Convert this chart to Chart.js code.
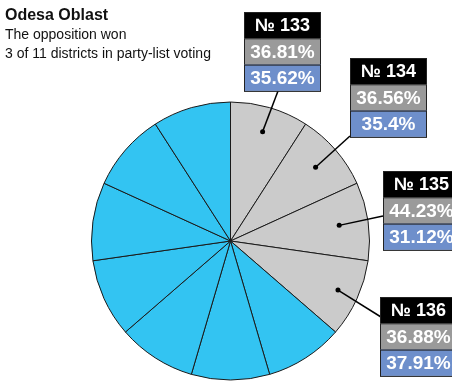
<!DOCTYPE html>
<html>
<head>
<meta charset="utf-8">
<script src="https://cdn.jsdelivr.net/npm/chart.js@4"></script>
<style>
  html, body { margin: 0; padding: 0; background: #fff; }
  #wrap { position: relative; width: 452px; height: 381px; overflow: hidden; }
  #head { position: absolute; left: 5px; top: 5px; font-family: "Liberation Sans", Arial, sans-serif; color: #111; }
  #head h1 { margin: 0; font-size: 16px; line-height: 20px; font-weight: bold; }
  #head p { margin: 0; font-size: 14px; line-height: 19px; }
</style>
</head>
<body>
<div id="wrap">
  <canvas id="pie" width="452" height="381"></canvas>
  <div id="head">
    <h1>Odesa Oblast</h1>
    <p>The opposition won<br>3 of 11 districts in party-list voting</p>
  </div>
</div>
<script>
// 11 single-member districts, equal slices
const districts = ["№ 133", "№ 134", "№ 135", "№ 136", "№ 137", "№ 138", "№ 139", "№ 140", "№ 141", "№ 142", "№ 143"];
const sliceWeights = [1, 1, 1, 1, 1, 1, 1, 1, 1, 1, 1];
// party-list results for the marked districts (%)
const oppositionVotes = [36.81, 36.56, 44.23, 36.88];
const rulingVotes = [35.62, 35.4, 31.12, 37.91];

const GRAY = "#cbcbcb";
const BLUE = "#33c4f2";

// where each callout box sits and where its leader line ends
const boxSpots = [
  { x: 244, y: 12, ax: 278, ay: 91, r: 0.82 },
  { x: 350, y: 58, ax: 350, ay: 136, r: 0.81 },
  { x: 383, y: 171, ax: 383, ay: 216, r: 0.79 },
  { x: 380, y: 297, ax: 381, ay: 317, r: 0.85 }
];

const calloutPlugin = {
  id: "callouts",
  afterDatasetsDraw(chart) {
    const ctx = chart.ctx;
    const arcs = chart.getDatasetMeta(0).data;
    const w = 77, rowH = 26.3;
    ctx.save();
    boxSpots.forEach((b, i) => {
      const arc = arcs[i];
      const mid = (arc.startAngle + arc.endAngle) / 2;
      const rr = arc.outerRadius * b.r;
      const px = arc.x + Math.cos(mid) * rr;
      const py = arc.y + Math.sin(mid) * rr;

      ctx.strokeStyle = "#000";
      ctx.lineWidth = 1.5;
      ctx.beginPath();
      ctx.moveTo(px, py);
      ctx.lineTo(b.ax, b.ay);
      ctx.stroke();
      ctx.fillStyle = "#000";
      ctx.beginPath();
      ctx.arc(px, py, 2.5, 0, Math.PI * 2);
      ctx.fill();

      const rows = [
        { bg: "#000", text: districts[i], font: "bold 18px 'Liberation Sans', Arial, sans-serif" },
        { bg: "#9a9a9a", text: oppositionVotes[i] + "%", font: "bold 19px 'Liberation Sans', Arial, sans-serif" },
        { bg: "#6e8fcb", text: rulingVotes[i] + "%", font: "bold 19px 'Liberation Sans', Arial, sans-serif" }
      ];
      rows.forEach((row, k) => {
        const y = b.y + k * rowH;
        ctx.fillStyle = row.bg;
        ctx.fillRect(b.x, y, w, rowH);
        ctx.strokeStyle = "#222";
        ctx.lineWidth = 1;
        ctx.strokeRect(b.x + 0.5, y + 0.5, w - 1, rowH);
        ctx.fillStyle = "#fff";
        ctx.font = row.font;
        ctx.textAlign = "center";
        ctx.textBaseline = "middle";
        ctx.fillText(row.text, b.x + w / 2, y + rowH / 2 + 1);
      });
    });
    ctx.restore();
  }
};

new Chart(document.getElementById("pie"), {
  type: "pie",
  data: {
    labels: districts,
    datasets: [{
      data: sliceWeights,
      backgroundColor: districts.map((d, i) => i < oppositionVotes.length ? GRAY : BLUE),
      borderColor: "#1a1a1a",
      borderWidth: 1
    }]
  },
  options: {
    responsive: false,
    animation: false,
    layout: { padding: { left: 91, right: 82, top: 101, bottom: 0 } },
    plugins: {
      legend: { display: false },
      tooltip: { enabled: false }
    }
  },
  plugins: [calloutPlugin]
});
</script>
</body>
</html>
